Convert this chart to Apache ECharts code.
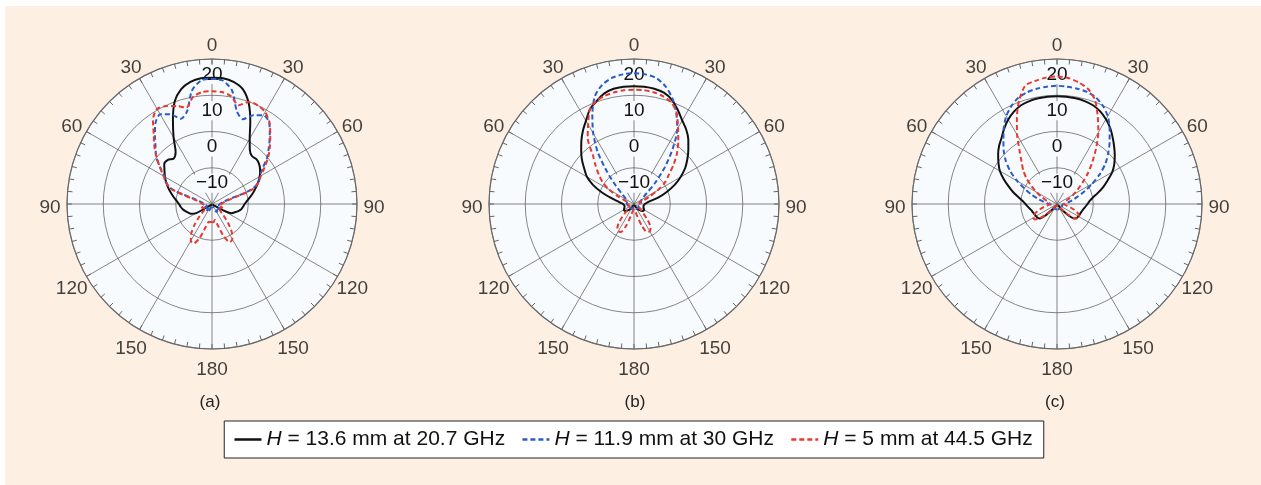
<!DOCTYPE html>
<html><head><meta charset="utf-8">
<script src="https://cdn.jsdelivr.net/npm/echarts@6/dist/echarts.min.js"></script>
<style>
html,body{margin:0;padding:0;background:#fff;width:1261px;height:485px;overflow:hidden}
#c{position:absolute;left:5px;top:6px;width:1256px;height:479px;background:#fdefe2}
</style>
</head><body><div id="c"></div>
<script>
// Angles (deg, 0 = top, positive = clockwise/right side)
const ANGLES = [-180,-175,-170,-165,-160,-155,-150,-145,-140,-135,-130,-125,-120,-115,-110,-105,-100,-95,-90,-85,-80,-75,-70,-65,-60,-55,-50,-45,-40,-35,-30,-25,-20,-15,-10,-5,
  0,5,10,15,20,25,30,35,40,45,50,55,60,65,70,75,80,85,90,95,100,105,110,115,120,125,130,135,140,145,150,155,160,165,170,175,180];

const SERIES_NAMES = ['H = 13.6 mm at 20.7 GHz','H = 11.9 mm at 30 GHz','H = 5 mm at 44.5 GHz'];
const PANEL_LABELS = ['(a)','(b)','(c)'];
const ANGLE_TICK_POS = [0,30,60,90,120,150,180,210,240,270,300,330];
const RADIUS_TICKS = [-10,0,10,20];

// Panel (a)
const KA_L = [-19.8,-19.8,-19.8,-19.8,-19.8,-19.8,-19.8,-19.8,-19.8,-19.8,-19.8,-19.0,-15.0,-13.6,-13.0,-12.4,-11.8,-11.3,-10.9,-10.2,-9.3,-8.3,-7.2,-6.1,-5.0,-4.0,-2.8,-2.8,-3.6,-2.5,1.2,5.5,10.1,12.8,14.2,14.8];
const KA_R = [14.8,14.8,14.2,12.8,9.6,5.0,0.8,-1.8,-2.8,-2.6,-3.0,-3.8,-4.8,-6.0,-7.2,-8.3,-9.4,-10.3,-11.0,-11.4,-11.8,-12.5,-13.3,-14.0,-17.0,-19.5,-19.8,-19.8,-19.8,-19.8,-19.8,-19.8,-19.8,-19.8,-19.8,-19.8,-19.8];
const BA_L = [-19,-19,-19,-19,-18.5,-18,-17.5,-17.5,-18,-18.5,-18,-17.5,-17.5,-18,-18.5,-18.5,-18.2,-18,-17.8,-17.5,-17,-15.5,-8.5,-6.0,-4.9,-2.6,0.1,2.0,4.5,7.2,8.6,7.3,5.0,6.5,11.8,14.2];
const BA_R = [14.5,14.2,11.8,6.5,4.9,7.0,8.3,7.5,4.8,2.2,-0.2,-3.0,-4.8,-5.8,-8.5,-15.5,-17.0,-17.5,-17.8,-18,-18.2,-18.5,-18.5,-18,-17.5,-17.5,-18,-18.5,-18,-17.5,-17.5,-18,-18.5,-19,-19,-19,-19];
const RA_L = [-15,-15,-15,-13.5,-10,-8.0,-8.3,-10,-12.5,-15,-17,-18,-18,-17.5,-17,-17.5,-18,-18,-17.5,-17,-16.5,-14.5,-8.2,-6.0,-4.6,-2.5,-0.1,2.5,5.0,8.4,10.3,9.8,8.8,7.5,10.0,11.0];
const RA_R = [11.1,11.0,10.2,8.2,10.0,10.0,9.3,7.6,5.0,2.6,0.3,-2.3,-4.4,-5.8,-8.0,-14.5,-16.5,-17,-17.5,-18,-18,-17.5,-17,-17.5,-18,-18,-17,-15.5,-13,-10.5,-8.8,-8.4,-10.5,-14,-15.5,-15,-15];

// Panel (b)
const KB_L = [-19.5,-19.5,-19.5,-19.5,-19.5,-19.5,-19,-18.5,-18,-17.5,-17.0,-16.8,-16.8,-17.0,-17.2,-17.3,-17.3,-17.2,-17.0,-16.3,-15.2,-13.3,-10.5,-7.5,-5.0,-3.3,-1.3,0.6,2.6,4.6,6.5,8.8,10.2,11.6,12.3,12.5];
const KB_R = [12.5,12.5,12.3,11.8,10.6,8.6,6.6,5.1,3.3,1.2,-0.8,-2.8,-5.2,-7.7,-10.5,-13.0,-15.5,-16.5,-17.0,-17.2,-17.3,-17.3,-17.2,-17.0,-16.8,-16.8,-17.0,-17.5,-18,-18.5,-19,-19.5,-19.5,-19.5,-19.5,-19.5,-19.5];
const BB_L = [-19,-19,-19,-19,-18.5,-18.5,-18.5,-18.5,-18.5,-18.5,-18.5,-18.5,-18.5,-18.5,-18.5,-18.3,-18.2,-18.1,-18,-18,-18,-18,-18,-17.8,-17.5,-17.0,-15.8,-13.0,-8.5,-2.6,2.5,7.2,11.6,14.0,15.3,15.9];
const BB_R = [16.1,15.9,15.3,13.6,11.0,7.6,3.9,-1.4,-6.8,-11.8,-15.6,-17.0,-17.5,-17.8,-18,-18,-18,-18,-18,-18.1,-18.2,-18.3,-18.5,-18.5,-18.5,-18.5,-18.5,-18.5,-18.5,-18.5,-18.5,-18.5,-18.5,-19,-19,-19,-19];
const RB_L = [-18.5,-18.5,-18,-16.5,-13.5,-11.5,-11.3,-12,-14,-16.5,-18,-18.5,-18.5,-18.5,-18.5,-18.5,-18.5,-18.5,-18.5,-18.5,-18.5,-18.5,-17.5,-15.5,-12,-9.4,-7.3,-5.0,-2.3,2.3,5.3,8.8,10.3,10.9,11.3,11.5];
const RB_R = [11.5,11.5,11.3,10.8,9.9,7.8,4.3,1.3,-1.5,-4.5,-7.5,-9.5,-12.5,-15.5,-17.5,-18.5,-18.5,-18.5,-18.5,-18.5,-18.5,-18.5,-18.5,-18.5,-18.5,-18.5,-18,-16.5,-14,-12,-11.3,-11.5,-13.5,-16.5,-18,-18.5,-18.5];

// Panel (c)
const KC_L = [-19.5,-19.5,-19.5,-19.5,-19.5,-19.5,-19.5,-19.5,-18.0,-15.5,-13.8,-13.4,-13.3,-13.2,-13.0,-12.8,-12.4,-11.9,-11.3,-10.5,-9.2,-7.5,-5.8,-3.8,-1.8,-0.3,1.2,2.6,3.8,5.4,6.9,8.1,9.0,9.4,9.6,9.7];
const KC_R = [9.7,9.7,9.6,9.4,9.0,8.2,7.0,5.6,3.9,2.3,0.8,-0.7,-2.4,-4.6,-6.5,-8.4,-10.0,-11.0,-11.6,-12.1,-12.5,-12.8,-13.0,-13.1,-13.2,-13.3,-13.8,-15.5,-18.0,-19.5,-19.5,-19.5,-19.5,-19.5,-19.5,-19.5,-19.5];
const BC_L = [-18.5,-18.5,-18.5,-18.5,-18.5,-18.5,-18.5,-18.5,-18.5,-18.5,-18.5,-18.5,-18.5,-18.5,-18.5,-18.5,-18.5,-18.5,-17.8,-17.2,-16.2,-14.6,-12.6,-10.3,-7.3,-4.3,-1.6,0.8,3.0,5.6,8.0,9.8,11.2,11.9,12.3,12.5];
const BC_R = [12.6,12.5,12.3,12.0,11.3,9.9,8.0,5.3,2.6,0.0,-2.5,-5.5,-8.8,-11.5,-13.8,-15.4,-16.6,-17.3,-17.8,-18.5,-18.5,-18.5,-18.5,-18.5,-18.5,-18.5,-18.5,-18.5,-18.5,-18.5,-18.5,-18.5,-18.5,-18.5,-18.5,-18.5,-18.5];
const RC_L = [-19.5,-19.5,-19.5,-19.5,-19.5,-19.5,-19.5,-19.5,-18.5,-16.5,-14.0,-12.6,-12.4,-13.0,-14.3,-15.8,-17.0,-17.8,-18,-18,-17.8,-17.3,-16.5,-15.2,-13.5,-11.5,-9.0,-6.8,-4.8,-2.0,2.0,6.2,10.5,13.8,14.5,15.0];
const RC_R = [15.2,14.9,14.1,12.9,10.6,6.6,2.8,-1.2,-4.8,-7.9,-10.8,-13.0,-14.8,-16.2,-17.2,-17.8,-18,-18,-18,-17.8,-17.2,-16.0,-14.6,-13.5,-13.0,-13.0,-14.0,-16.5,-18.5,-19.5,-19.5,-19.5,-19.5,-19.5,-19.5,-19.5,-19.5];

const PANELS = [
  [KA_L.concat(KA_R), BA_L.concat(BA_R), RA_L.concat(RA_R)],
  [KB_L.concat(KB_R), BB_L.concat(BB_R), RB_L.concat(RB_R)],
  [KC_L.concat(KC_R), BC_L.concat(BC_R), RC_L.concat(RC_R)]
];

const COLORS = ['#111111','#2b5bc8','#e8392e'];
const CENTERS = [[207,198],[629,198],[1052,198]];
const R = 145;        // plot radius (px)
const R_LABEL = 162;  // angle-label ring radius (px)
const GRID = '#666666';
const FILL = '#f8fbfe';
const FONT = 'Liberation Sans, Arial, sans-serif';

const chart = echarts.init(document.getElementById('c'), null, {renderer:'canvas'});

// polars 0..2: data + grid;  polars 3..5: fill disc + angle labels
const polar = CENTERS.map(c => ({center: c, radius: R}))
  .concat(CENTERS.map(c => ({center: c, radius: R_LABEL})));

const angleAxis = CENTERS.map((c, i) => ({
  polarIndex: i, type: 'value', min: 0, max: 360, interval: 30, z: 2,
  startAngle: 90, clockwise: true,
  axisLine: {show: true, lineStyle: {color: '#707070', width: 1.2}},
  axisTick: {show: true, inside: true, length: 5, lineStyle: {color: GRID}},
  minorTick: {show: true, splitNumber: 6, length: 5, lineStyle: {color: GRID}},
  splitLine: {show: true, lineStyle: {color: GRID, width: 0.8}},
  axisLabel: {show: false}
})).concat(CENTERS.map((c, i) => ({
  polarIndex: i + 3, type: 'value', min: 0, max: 360, interval: 30, z: 0,
  startAngle: 90, clockwise: true,
  axisLine: {show: false}, axisTick: {show: false}, axisLabel: {show: false},
  splitLine: {show: false}
})));

const radiusAxis = CENTERS.map((c, i) => ({
  polarIndex: i, type: 'value', min: -20, max: 20, interval: 10, z: 3,
  axisLine: {show: false}, axisTick: {show: false},
  splitLine: {show: true, lineStyle: {color: GRID, width: 0.8}},
  axisLabel: {
    show: true, showMinLabel: false, margin: 0, align: 'center', verticalAlign: 'top',
    padding: [6, 0, 0, 0],
    fontSize: 19, color: '#111', fontFamily: FONT,
    formatter: v => RADIUS_TICKS.indexOf(v) >= 0 ? '{b|' + (v < 0 ? '\u2212' + (-v) : String(v)) + '}' : '',
    rich: {b: {fontSize: 19, color: '#111', fontFamily: FONT, backgroundColor: FILL, padding: [0, 1, 0, 1]}}
  }
})).concat(CENTERS.map((c, i) => ({
  polarIndex: i + 3, type: 'value', min: 0, max: R_LABEL, interval: R, z: 0,
  axisLine: {show: false}, axisTick: {show: false}, axisLabel: {show: false},
  splitLine: {show: false},
  splitArea: {show: true, areaStyle: {color: [FILL, 'rgba(0,0,0,0)']}}
})));

const series = [];
PANELS.forEach((panel, i) => {
  panel.forEach((vals, k) => {
    series.push({
      type: 'line', coordinateSystem: 'polar', polarIndex: i,
      name: SERIES_NAMES[k],
      data: ANGLES.map((a, j) => [vals[j], a < 0 ? a + 360 : a]),
      symbol: 'none', showSymbol: false, smooth: 0.25, z: 5 + k,
      lineStyle: {color: COLORS[k], width: 2, type: k === 0 ? 'solid' : [5, 3]},
      itemStyle: {color: COLORS[k]},
      animation: false
    });
  });
  // angle tick labels, placed on the label ring
  series.push({
    type: 'scatter', coordinateSystem: 'polar', polarIndex: i + 3,
    data: ANGLE_TICK_POS.map(a => [R_LABEL, a]),
    symbolSize: 0, silent: true, z: 5,
    label: {
      show: true, position: 'inside', offset: [0, 4],
      fontSize: 19, color: '#111', fontFamily: FONT,
      formatter: p => String(p.value[1] > 180 ? 360 - p.value[1] : p.value[1])
    },
    animation: false
  });
});

const TITLE_X = [200, 625, 1045];
const titles = TITLE_X.map((x, i) => ({
  text: PANEL_LABELS[i], left: x, top: 383, textAlign: 'center',
  textStyle: {fontSize: 17, fontWeight: 'normal', fontFamily: FONT, color: '#222'}
}));

chart.setOption({
  animation: false,
  backgroundColor: 'transparent',
  title: titles,
  polar, angleAxis, radiusAxis, series,
  legend: {
    data: SERIES_NAMES, left: 'center', top: 415,
    backgroundColor: '#fff', borderColor: '#222', borderWidth: 1, borderRadius: 0,
    padding: [8, 11, 8, 9], itemGap: 16, itemWidth: 27, itemHeight: 3,
    itemStyle: {opacity: 0},
    lineStyle: {width: 2.5},
    formatter: n => '{i|H}' + n.slice(1),
    textStyle: {
      fontSize: 21, color: '#111', fontFamily: FONT,
      rich: {i: {fontStyle: 'italic', fontSize: 21, color: '#111', fontFamily: FONT}}
    }
  }
});
</script>
</body></html>
